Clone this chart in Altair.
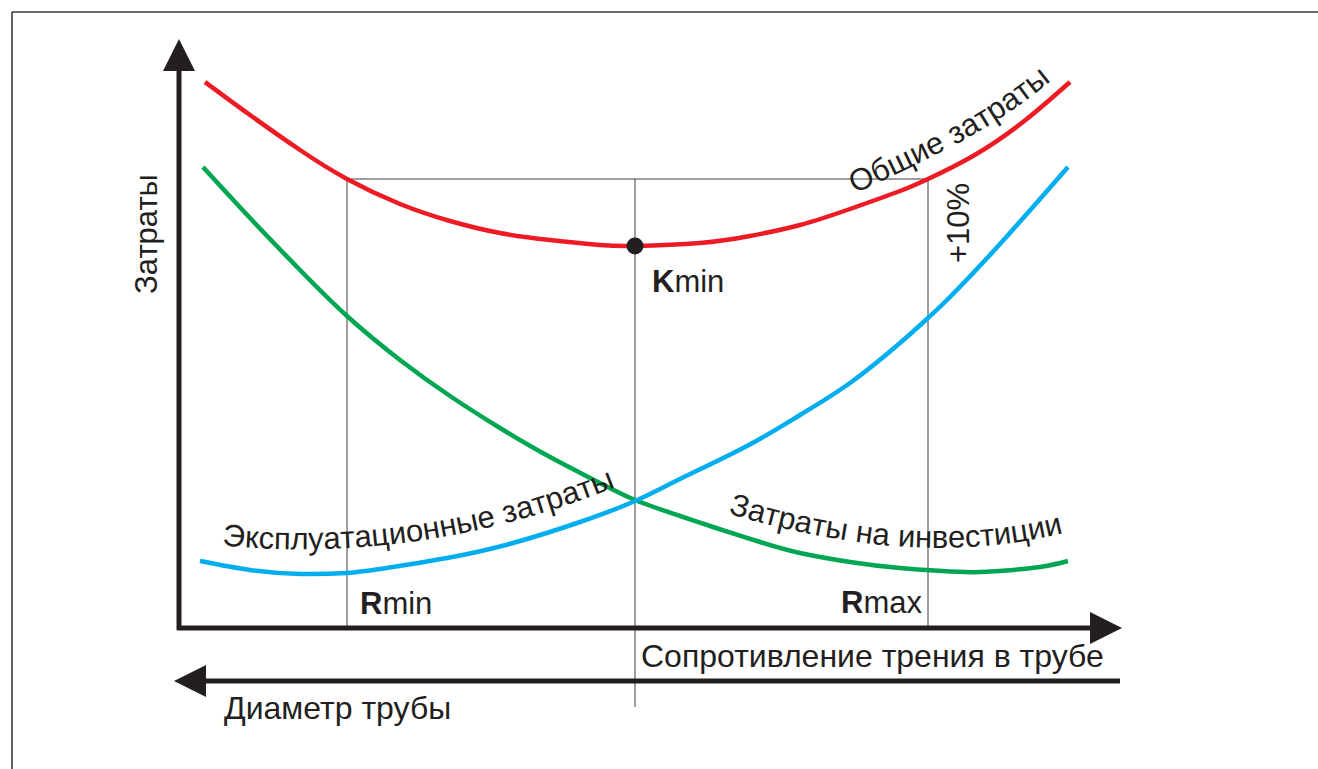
import math
import numpy as np
import pandas as pd
import altair as alt

W, H = 1318, 769
INK = "#231f20"
FONT = "Liberation Sans"
FS = 31

# Cost curves on the drawing canvas (x to the right, y downward)
total_x = [205, 250, 300, 347, 400, 450, 500, 550, 600, 635, 700, 750, 800, 850, 900, 928, 973, 1023, 1070]
total_y = [82, 115, 150, 179, 204, 221, 233, 240, 245, 246, 243, 236, 225, 209, 191, 179, 156, 122, 82]

invest_x = [203, 250, 300, 347, 400, 450, 500, 550, 600, 635, 680, 713, 760, 800, 850, 900, 965, 1000, 1040, 1068]
invest_y = [167, 218, 270, 316, 360, 396, 428, 457, 483, 500, 516, 527, 542, 553, 562, 568, 572, 571, 567, 561]

oper_x = [200, 250, 300, 347, 380, 447, 513, 580, 635, 680, 747, 800, 850, 900, 928, 950, 1000, 1068]
oper_y = [561, 570, 574, 573, 569, 558, 543, 522, 501, 479, 446, 415, 383, 343, 318, 297, 244, 167]

# Characteristic points
r_min_x = 347
k_opt_x = 635
r_max_x = 928
k_min_y = 246
limit_y = 179          # total cost +10 %

# Baselines of the curved captions
total_lbl_x = [855, 900, 950, 1000, 1045]
total_lbl_y = [194, 172, 148, 118, 86]
oper_lbl_x = [222, 300, 345, 390, 420, 460, 500, 540, 580, 625]
oper_lbl_y = [546, 548, 548, 545, 541, 535, 525, 512, 500, 484]
invest_lbl_x = [728, 760, 800, 850, 900, 940, 980, 1020, 1050, 1068]
invest_lbl_y = [513, 523, 532, 541, 546, 548, 546, 542, 537, 531]

# Advance widths (em) of the sans-serif glyphs used in the captions
ADV = {
    "а": .556, "б": .562, "в": .530, "г": .364, "д": .567, "е": .556, "ж": .672,
    "з": .466, "и": .560, "к": .448, "л": .568, "м": .682, "н": .552, "о": .556,
    "п": .552, "р": .556, "с": .500, "т": .457, "у": .500, "ц": .569, "ч": .523,
    "ш": .822, "щ": .835, "ы": .720, "ь": .523, "Э": .722, "З": .611, "О": .778,
    " ": .278,
}


def on_path(text, px, py, size):
    """Place each character of text along a smooth baseline through (px, py)."""
    coef = np.polyfit(px, py, 3)
    dcoef = np.polyder(coef)
    xs = np.linspace(px[0] - 40, px[-1] + 80, 4000)
    ys = np.polyval(coef, xs)
    s = np.concatenate([[0.0], np.cumsum(np.hypot(np.diff(xs), np.diff(ys)))])
    pos = float(np.interp(px[0], xs, s))
    rows = []
    for ch in text:
        adv = ADV.get(ch, 0.556) * size
        mid = pos + adv / 2
        xc = float(np.interp(mid, s, xs))
        yc = float(np.polyval(coef, xc))
        ang = math.degrees(math.atan(float(np.polyval(dcoef, xc)))) % 360
        if ch != " ":
            rows.append({"x": xc, "y": yc, "ch": ch, "angle": ang})
        pos += adv
    return rows


X = lambda f="x": alt.X(f"{f}:Q", scale=alt.Scale(domain=[0, W], nice=False, zero=False), axis=None)
Y = lambda f="y": alt.Y(f"{f}:Q", scale=alt.Scale(domain=[0, H], nice=False, zero=False, reverse=True), axis=None)


def rules(df, color, width):
    return alt.Chart(df).mark_rule(color=color, strokeWidth=width).encode(
        x=X(), x2="x2:Q", y=Y(), y2="y2:Q")


def curve(xv, yv, color):
    df = pd.DataFrame({"x": xv, "y": yv})
    return alt.Chart(df).mark_line(color=color, strokeWidth=4.5, interpolate="natural").encode(
        x=X(), y=Y(), order="x:Q")


def arrow_head(x, y, path):
    df = pd.DataFrame({"x": [x], "y": [y]})
    return alt.Chart(df).mark_point(shape=path, filled=True, color=INK, opacity=1,
                                    size=1024, strokeWidth=0).encode(x=X(), y=Y())


def label(rows, size=FS, weight="normal", align="left", angle=0):
    df = pd.DataFrame(rows)
    return alt.Chart(df).mark_text(font=FONT, fontSize=size, fontWeight=weight, color=INK,
                                   align=align, baseline="alphabetic", angle=angle).encode(
        x=X(), y=Y(), text="t:N")


frame = pd.DataFrame({"x": [12, 12], "x2": [W, 12], "y": [12, 12], "y2": [12, H]})
guides = pd.DataFrame({
    "x": [r_min_x, k_opt_x, r_max_x, r_min_x],
    "x2": [r_min_x, k_opt_x, r_max_x, r_max_x],
    "y": [limit_y, limit_y, limit_y, limit_y],
    "y2": [628, 707, 628, limit_y],
})
axes = pd.DataFrame({
    "x": [179, 177, 205],
    "x2": [179, 1092, 1120],
    "y": [70, 628, 681],
    "y2": [630, 628, 681],
})

curved = pd.DataFrame(
    on_path("Общие затраты", total_lbl_x, total_lbl_y, FS)
    + on_path("Эксплуатационные затраты", oper_lbl_x, oper_lbl_y, FS)
    + on_path("Затраты на инвестиции", invest_lbl_x, invest_lbl_y, FS)
)
curved_text = alt.Chart(curved).mark_text(
    font=FONT, fontSize=FS, color=INK, align="center", baseline="alphabetic"
).encode(x=X(), y=Y(), text="ch:N", angle=alt.Angle("angle:Q", scale=None))

kmin_dot = alt.Chart(pd.DataFrame({"x": [k_opt_x], "y": [k_min_y]})).mark_circle(
    size=290, color=INK, opacity=1).encode(x=X(), y=Y())

bold_w = 0.722 * FS
layers = [
    rules(frame, "#3a3a3a", 1.6),
    rules(guides, "#3c3c3c", 1),
    curve(total_x, total_y, "#ed1c24"),
    curve(invest_x, invest_y, "#00a651"),
    curve(oper_x, oper_y, "#00aeef"),
    rules(axes, INK, 5),
    arrow_head(179, 55, "M0,-1L1,1L-1,1Z"),
    arrow_head(1106, 628, "M1,0L-1,-1L-1,1Z"),
    arrow_head(190, 681, "M-1,0L1,-1L1,1Z"),
    kmin_dot,
    curved_text,
    label([{"x": 157, "y": 234, "t": "Затраты"}], align="center", angle=270),
    label([{"x": 969, "y": 223, "t": "+10%"}], align="center", angle=270),
    label([{"x": 360, "y": 614, "t": "R"}, {"x": 841, "y": 613, "t": "R"},
           {"x": 652, "y": 292, "t": "K"}], weight="bold"),
    label([{"x": 360 + bold_w, "y": 614, "t": "min"}, {"x": 841 + bold_w, "y": 613, "t": "max"},
           {"x": 652 + bold_w, "y": 292, "t": "min"}]),
    label([{"x": 641, "y": 667, "t": "Сопротивление трения в трубе"},
           {"x": 224, "y": 719, "t": "Диаметр трубы"}], size=32),
]

chart = alt.layer(*layers).properties(
    width=W, height=H, padding=0, autosize=alt.AutoSizeParams(type="none"),
    background="white",
).configure_view(stroke=None)

chart.save("out.html", embed_options={"renderer": "svg", "actions": False})
